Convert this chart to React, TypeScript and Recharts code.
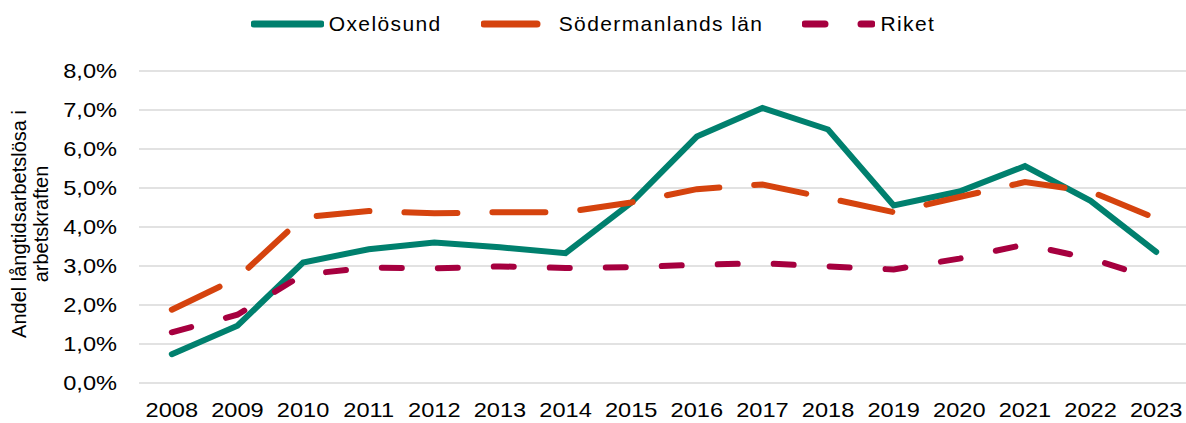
import { CartesianGrid, Line, LineChart, XAxis, YAxis } from "recharts";

const years = ["2008", "2009", "2010", "2011", "2012", "2013", "2014", "2015", "2016", "2017", "2018", "2019", "2020", "2021", "2022", "2023"];
const oxelosund = [0.74, 1.47, 3.09, 3.43, 3.6, 3.48, 3.33, 4.62, 6.32, 7.05, 6.5, 4.55, 4.91, 5.56, 4.67, 3.36];
const sodermanland = [1.88, 2.69, 4.25, 4.41, 4.35, 4.38, 4.38, 4.63, 4.97, 5.09, 4.74, 4.38, 4.77, 5.15, 4.91, 4.22];
const riket = [1.3, 1.75, 2.78, 2.96, 2.94, 2.99, 2.95, 2.97, 3.03, 3.07, 2.99, 2.91, 3.19, 3.55, 3.19, 2.66];
const yTicks = [0, 1, 2, 3, 4, 5, 6, 7, 8];

const FONT = '"Liberation Sans", Arial, sans-serif';
const STRETCH = 1.18;

const series = [
  { key: "Oxelösund", values: oxelosund, color: "#00806e", dash: undefined },
  { key: "Södermanlands län", values: sodermanland, color: "#d5430e", dash: "53 35" },
  { key: "Riket", values: riket, color: "#a6003f", dash: "20 36" }
];

const chartData = years.map((year, i) => {
  const row: Record<string, string | number> = { year };
  series.forEach((s) => {
    row[s.key] = s.values[i];
  });
  return row;
});

const pct = (v: number) => `${v.toFixed(1).replace(".", ",")}%`;

const YTick = (props: any) => {
  const { x, y, payload } = props;
  return (
    <text transform={`translate(${x},${y}) scale(${STRETCH},1)`} textAnchor="end" dy="0.355em" fontSize={20} fontFamily={FONT} fill="#000">
      {pct(payload.value)}
    </text>
  );
};

const XTick = (props: any) => {
  const { x, y, payload } = props;
  return (
    <text transform={`translate(${x},${y}) scale(${STRETCH},1)`} textAnchor="middle" dy="0.71em" fontSize={20} fontFamily={FONT} fill="#000">
      {payload.value}
    </text>
  );
};

const YTitle = (props: any) => {
  const vb = props.viewBox || { y: 71, height: 312 };
  const cx = 26;
  const cy = vb.y + vb.height / 2 - 3;
  return (
    <text x={cx} y={cy} transform={`rotate(-90 ${cx} ${cy})`} textAnchor="middle" fontSize={20} fontFamily={FONT} fill="#000">
      <tspan x={cx}>Andel långtidsarbetslösa i</tspan>
      <tspan x={cx} dy={22}>arbetskraften</tspan>
    </text>
  );
};

const ChartLegend = () => (
  <div
    style={{
      position: "absolute",
      top: 0,
      left: 0,
      width: 1186,
      height: 48,
      display: "flex",
      justifyContent: "center",
      alignItems: "center",
      fontFamily: FONT,
      fontSize: 21,
      letterSpacing: 1.4,
      color: "#000"
    }}
  >
    {series.map((s, idx) => (
      <div key={s.key} style={{ display: "flex", alignItems: "center", marginRight: idx < series.length - 1 ? 39 : 0 }}>
        <svg width={73} height={12} style={{ marginRight: 5 }}>
          <line x1={3} y1={6} x2={70} y2={6} stroke={s.color} strokeWidth={7} strokeLinecap="round" strokeDasharray={s.dash} />
        </svg>
        <span>{s.key}</span>
      </div>
    ))}
  </div>
);

export default function App() {
  return (
    <div style={{ position: "relative", width: 1186, height: 423, overflow: "hidden", background: "#fff" }}>
      <style>{"body{margin:0}"}</style>
      <ChartLegend />
      <LineChart width={1189} height={423} data={chartData} margin={{ top: 71, right: 0, bottom: 10, left: 0 }}>
        <CartesianGrid vertical={false} stroke="#d9d9d9" strokeWidth={1.5} />
        <XAxis
          dataKey="year"
          scale="band"
          height={30}
          axisLine={false}
          tickLine={false}
          tickSize={0}
          tickMargin={20}
          tick={<XTick />}
          interval={0}
        />
        <YAxis
          width={139}
          domain={[0, 8]}
          ticks={yTicks}
          axisLine={false}
          tickLine={false}
          tickSize={0}
          tickMargin={22}
          tick={<YTick />}
          label={<YTitle />}
        />
        {series.map((s) => (
          <Line
            key={s.key}
            type="linear"
            dataKey={s.key}
            stroke={s.color}
            strokeWidth={6}
            strokeDasharray={s.dash}
            strokeLinecap="round"
            dot={false}
            activeDot={false}
            isAnimationActive={false}
          />
        ))}
      </LineChart>
    </div>
  );
}
